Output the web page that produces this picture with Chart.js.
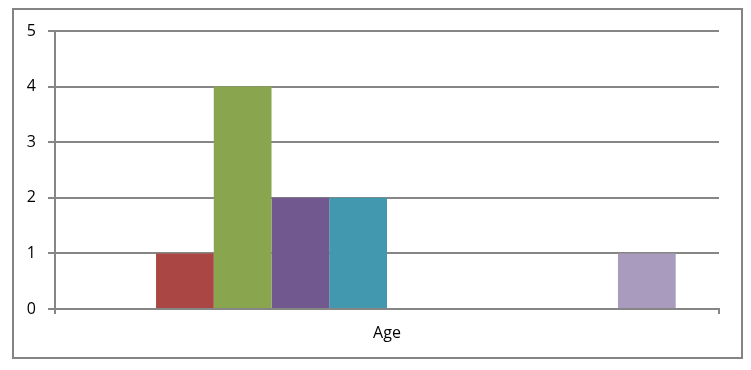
<!DOCTYPE html>
<html>
<head>
<meta charset="utf-8">
<script src="https://cdn.jsdelivr.net/npm/chart.js@4"></script>
<style>
  body { margin: 0; background: #fff; }
  #caja { position: absolute; left: 0; top: 0; width: 751px; height: 370px; }
  #marco { position: absolute; left: 12px; top: 8px; width: 727px; height: 347px; border: 2px solid #848484; }
</style>
</head>
<body>
<div id="caja">
  <div id="marco"></div>
  <canvas id="grafico" width="751" height="370"></canvas>
</div>
<script>
// una sola categoria, diez series
const categorias = ["Age"]
const series = ["S1", "S2", "S3", "S4", "S5", "S6", "S7", "S8", "S9", "S10"]
const valores = [0, 1, 4, 2, 2, 0, 0, 0, 0, 1]
const colores = ["#4572A7", "#AA4643", "#89A54E", "#71588F", "#4198AF", "#DB843D", "#93A9CF", "#D19392", "#B9CD96", "#A99BBD"]
const marcasY = [0, 1, 2, 3, 4, 5]

const conjuntos = series.map((nombre, i) => ({
	label: nombre,
	data: [valores[i]],
	backgroundColor: colores[i],
	borderWidth: 0,
	barPercentage: 1,
	categoryPercentage: 10 / 11.5
}))

const letra = { family: "'Open Sans'", size: 16 }

new Chart("grafico", {
	type: "bar",
	data: { labels: categorias, datasets: conjuntos },
	options: {
		responsive: false,
		animation: false,
		layout: { padding: { top: 31, right: 32, left: 0, bottom: 0 } },
		plugins: { legend: { display: false }, tooltip: { enabled: false } },
		scales: {
			x: {
				grid: { offset: true, drawOnChartArea: false, tickLength: 5, color: "#868686", lineWidth: 2 },
				border: { color: "#868686", width: 2 },
				ticks: { padding: 10, color: "#000", font: letra },
				afterFit: function(escala){ escala.height = 61 }
			},
			y: {
				min: 0,
				max: 5,
				afterBuildTicks: function(escala){ escala.ticks = marcasY.map(v => ({ value: v })) },
				grid: { color: "#868686", lineWidth: 2, tickLength: 7 },
				border: { color: "#868686", width: 2 },
				ticks: { padding: 12, color: "#000", font: letra },
				afterFit: function(escala){ escala.width = 55 }
			}
		}
	}
})
</script>
</body>
</html>
